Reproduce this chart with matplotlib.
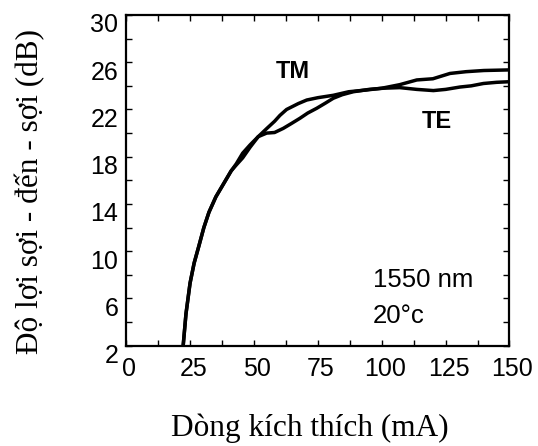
import numpy as np
import matplotlib
matplotlib.use("Agg")
import matplotlib.pyplot as plt
from matplotlib.ticker import MultipleLocator, FixedLocator
import matplotlib.transforms as mtransforms

### Gain vs drive current ###
tm_current = [22.2, 23.3, 24.9, 26.5, 28.3, 30.3, 32.3, 35.0, 38.0, 41.0, 43.0,
              45.5, 48.4, 51.6, 55.0, 58.0, 60.1, 62.7, 67.3, 70.6, 75.0, 81.0, 87.0,
              94.0, 100.0, 107.0, 113.7, 120.0, 126.7, 133.0, 140.0, 150.0]
tm_gain = [2.0, 4.7, 7.3, 9.0, 10.4, 12.0, 13.3, 14.6, 15.7, 16.8, 17.4,
           18.3, 19.0, 19.7, 20.4, 21.0, 21.5, 22.0, 22.5, 22.8, 23.0, 23.2, 23.5,
           23.65, 23.8, 24.1, 24.5, 24.6, 25.05, 25.2, 25.3, 25.35]

te_current = [22.2, 23.3, 24.9, 26.5, 28.3, 30.3, 32.3, 35.0, 38.0, 41.0, 43.0,
              45.5, 48.4, 51.6, 54.9, 58.0, 61.4, 64.5, 67.9, 71.0, 74.5, 78.0,
              81.0, 84.5, 88.8, 95.0, 100.6, 107.0, 113.7, 120.2, 125.0, 130.6,
              135.0, 139.8, 145.0, 150.0]
te_gain = [2.0, 4.7, 7.3, 9.0, 10.4, 12.0, 13.3, 14.6, 15.7, 16.8, 17.3,
           17.9, 18.8, 19.7, 20.0, 20.05, 20.4, 20.8, 21.25, 21.7, 22.1, 22.55,
           22.95, 23.25, 23.5, 23.7, 23.8, 23.85, 23.7, 23.6, 23.7, 23.9,
           24.0, 24.2, 24.3, 24.35]

y_ticks = [2, 6, 10, 14, 18, 22, 26, 30]
x_ticks = [0, 25, 50, 75, 100, 125, 150]

sans = "Liberation Sans"
serif = "Liberation Serif"

#%%
fig = plt.figure(figsize=(5.38, 4.46), dpi=100)
ax = fig.add_axes([0.2351, 0.2249, 0.7119, 0.7415])

ax.plot(tm_current, tm_gain, color="black", lw=2.5, solid_capstyle="butt")
ax.plot(te_current, te_gain, color="black", lw=2.5, solid_capstyle="butt")

ax.set_xlim(0, 150)
ax.set_ylim(2, 30)
ax.xaxis.set_major_locator(FixedLocator(x_ticks))
ax.xaxis.set_minor_locator(MultipleLocator(12.5))
ax.yaxis.set_major_locator(FixedLocator(y_ticks))
ax.yaxis.set_minor_locator(MultipleLocator(2))

ax.tick_params(which="both", direction="in", top=True, right=True,
               length=4, width=1.0, color="black")
ax.tick_params(axis="x", pad=8)
ax.tick_params(axis="y", pad=6)
for sp in ax.spines.values():
    sp.set_linewidth(1.6)

for lab in ax.get_xticklabels() + ax.get_yticklabels():
    lab.set_fontfamily(sans)
    lab.set_fontsize(18)

# nudge tick labels like the printed figure
dy = mtransforms.ScaledTranslation(0, -8 / 100, fig.dpi_scale_trans)
for lab in ax.get_yticklabels():
    lab.set_transform(lab.get_transform() + dy)
dx = mtransforms.ScaledTranslation(3 / 100, 0, fig.dpi_scale_trans)
for lab in ax.get_xticklabels():
    lab.set_transform(lab.get_transform() + dx)

ax.text(65.2, 25.25, "TM", fontfamily=sans, fontweight="bold", fontsize=17,
        ha="center", va="center")
ax.text(121.5, 21.0, "TE", fontfamily=sans, fontweight="bold", fontsize=17,
        ha="center", va="center")
ax.text(96.6, 7.55, "1550 nm", fontfamily=sans, fontsize=18.5,
        ha="left", va="center")
ax.text(96.6, 4.55, "20°c", fontfamily=sans, fontsize=18.5,
        ha="left", va="center")

fig.text(310 / 538, 1 - 428 / 446, "Dòng kích thích (mA)", fontfamily=serif,
         fontsize=22.5, ha="center", va="center")
fig.text(30 / 538, 1 - 192 / 446, "Độ lợi sợi - đến - sợi (dB)", fontfamily=serif,
         fontsize=22.5, ha="center", va="center", rotation=90)

fig.savefig("out.png", dpi=100)
